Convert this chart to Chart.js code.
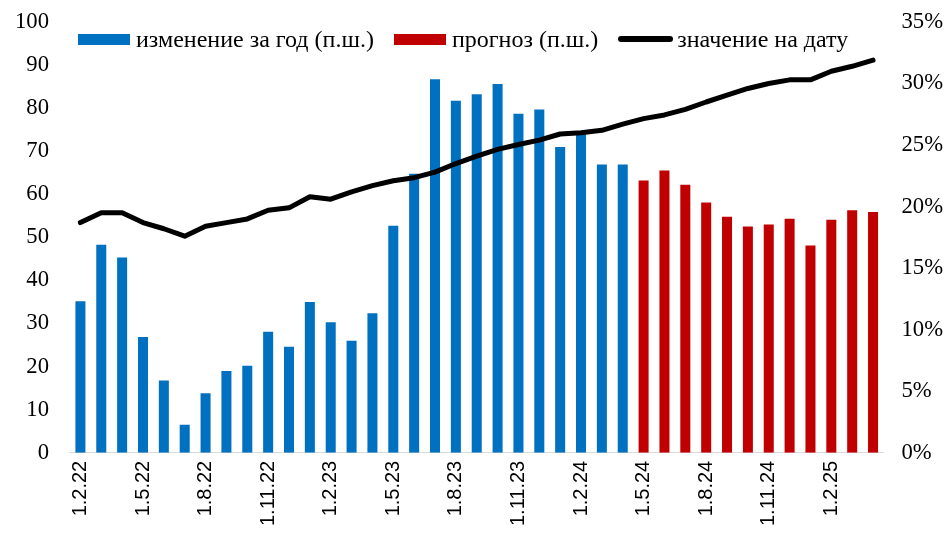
<!DOCTYPE html>
<html>
<head>
<meta charset="utf-8">
<script src="https://cdn.jsdelivr.net/npm/chart.js@4"></script>
<style>
  body { margin: 0; background: #fff; }
  #wrap { position: relative; width: 947px; height: 536px; }
  #legend {
    position: absolute; left: 78px; top: 25px;
    display: flex; align-items: center;
    font: 24px "Liberation Serif", serif; color: #000; line-height: 28px;
  }
  .item { display: flex; align-items: center; margin-right: 20px; }
  .sw { width: 52px; height: 11px; margin-right: 6px; }
  .ln { width: 55px; height: 6px; border-radius: 3px; margin-right: 4px; background: #000; }
</style>
</head>
<body>
<div id="wrap">
  <canvas id="chartCanvas" width="947" height="536"></canvas>
  <div id="legend"></div>
</div>
<script>
// months, d.m.yy
const months = [
  '1.2.22', '1.3.22', '1.4.22', '1.5.22', '1.6.22', '1.7.22', '1.8.22', '1.9.22', '1.10.22', '1.11.22', '1.12.22',
  '1.1.23', '1.2.23', '1.3.23', '1.4.23', '1.5.23', '1.6.23', '1.7.23', '1.8.23', '1.9.23', '1.10.23', '1.11.23', '1.12.23',
  '1.1.24', '1.2.24', '1.3.24', '1.4.24', '1.5.24', '1.6.24', '1.7.24', '1.8.24', '1.9.24', '1.10.24', '1.11.24', '1.12.24',
  '1.1.25', '1.2.25', '1.3.25', '1.4.25'
];

// изменение за год (п.ш.), 1.2.22 - 1.4.24
const changeValues = [35.2, 48.3, 45.3, 26.9, 16.8, 6.5, 13.8, 19.0, 20.2, 28.1, 24.6, 35.0, 30.3, 26.0, 32.4,
  52.7, 64.8, 86.7, 81.7, 83.2, 85.6, 78.7, 79.7, 71.0, 74.4, 66.9, 66.9];

// прогноз (п.ш.), 1.5.24 - 1.4.25
const forecastValues = [63.2, 65.5, 62.2, 58.1, 54.8, 52.5, 53.0, 54.3, 48.1, 54.1, 56.3, 55.9];

// значение на дату, %
const levelValues = [18.7, 19.5, 19.5, 18.7, 18.2, 17.6, 18.4, 18.7, 19.0, 19.7, 19.9, 20.8, 20.6, 21.2, 21.7,
  22.1, 22.35, 22.8, 23.5, 24.1, 24.65, 25.05, 25.4, 25.9, 26.0, 26.2, 26.7, 27.15, 27.45, 27.9, 28.5, 29.05,
  29.6, 30.0, 30.3, 30.3, 31.0, 31.4, 31.9];

const leftTicks = [0, 10, 20, 30, 40, 50, 60, 70, 80, 90, 100];
const rightTicks = [0, 5, 10, 15, 20, 25, 30, 35];

const blue = '#0070C0';
const red = '#C00000';

const changeData = months.map((_, i) => i < changeValues.length ? changeValues[i] : null);
const forecastData = months.map((_, i) => i >= changeValues.length ? forecastValues[i - changeValues.length] : null);

const serif = '"Liberation Serif", "Times New Roman", serif';
const sans = '"Liberation Sans", Arial, sans-serif';

// the tick padding ends up counted twice in the axis size, take one back
function trimVertical(axis) {
  axis.paddingTop = 13;
  axis.paddingBottom = 13;
  axis.width -= axis.options.ticks.padding;
}

function trimHorizontal(axis) {
  axis.paddingLeft = 0;
  axis.paddingRight = 0;
  axis.height -= axis.options.ticks.padding;
}

const config = {
  type: 'bar',
  data: {
    labels: months,
    datasets: [
      {
        label: 'изменение за год (п.ш.)',
        data: changeData,
        backgroundColor: blue,
        yAxisID: 'y',
        grouped: false,
        barPercentage: 0.48,
        categoryPercentage: 1,
        order: 1,
      },
      {
        label: 'прогноз (п.ш.)',
        data: forecastData,
        backgroundColor: red,
        yAxisID: 'y',
        grouped: false,
        barPercentage: 0.48,
        categoryPercentage: 1,
        order: 1,
      },
      {
        type: 'line',
        label: 'значение на дату',
        data: levelValues,
        borderColor: '#000',
        borderWidth: 5,
        borderJoinStyle: 'round',
        borderCapStyle: 'round',
        pointRadius: 0,
        tension: 0,
        fill: false,
        yAxisID: 'y1',
        order: 0,
      },
    ],
  },
  options: {
    responsive: false,
    animation: false,
    layout: { padding: { top: 22, left: 15, right: 4, bottom: 10 } },
    plugins: {
      legend: { display: false },
      tooltip: { enabled: false },
    },
    scales: {
      x: {
        grid: { display: false, drawTicks: false },
        border: { display: true, color: '#d9d9d9', width: 1 },
        afterFit: trimHorizontal,
        ticks: {
          autoSkip: false,
          minRotation: 90,
          maxRotation: 90,
          padding: 8,
          color: '#000',
          font: { family: sans, size: 20 },
          callback: function (value, index) {
            return index % 3 === 0 ? months[index] : '';
          },
        },
      },
      y: {
        position: 'left',
        min: 0,
        max: 100,
        afterBuildTicks: axis => { axis.ticks = leftTicks.map(v => ({ value: v })); },
        afterFit: trimVertical,
        grid: { display: false, drawTicks: false },
        border: { display: false },
        ticks: {
          padding: 21,
          color: '#000',
          font: { family: serif, size: 22.67 },
        },
      },
      y1: {
        position: 'right',
        min: 0,
        max: 35,
        afterBuildTicks: axis => { axis.ticks = rightTicks.map(v => ({ value: v })); },
        afterFit: trimVertical,
        grid: { display: false, drawTicks: false },
        border: { display: false },
        ticks: {
          padding: 18,
          color: '#000',
          font: { family: serif, size: 22.67 },
          callback: value => value + '%',
        },
      },
    },
  },
};

const ctx = document.getElementById('chartCanvas').getContext('2d');
const chartInstance = new Chart(ctx, config);

// legend drawn as html on top of the plot area
function renderLegend() {
  const legend = document.getElementById('legend');
  legend.innerHTML = '';
  chartInstance.data.datasets.forEach(ds => {
    const item = document.createElement('div');
    item.className = 'item';
    const sw = document.createElement('span');
    if (ds.type === 'line') {
      sw.className = 'ln';
    } else {
      sw.className = 'sw';
      sw.style.background = ds.backgroundColor;
    }
    const txt = document.createElement('span');
    txt.textContent = ds.label;
    item.appendChild(sw);
    item.appendChild(txt);
    legend.appendChild(item);
  });
}

renderLegend();
</script>
</body>
</html>
